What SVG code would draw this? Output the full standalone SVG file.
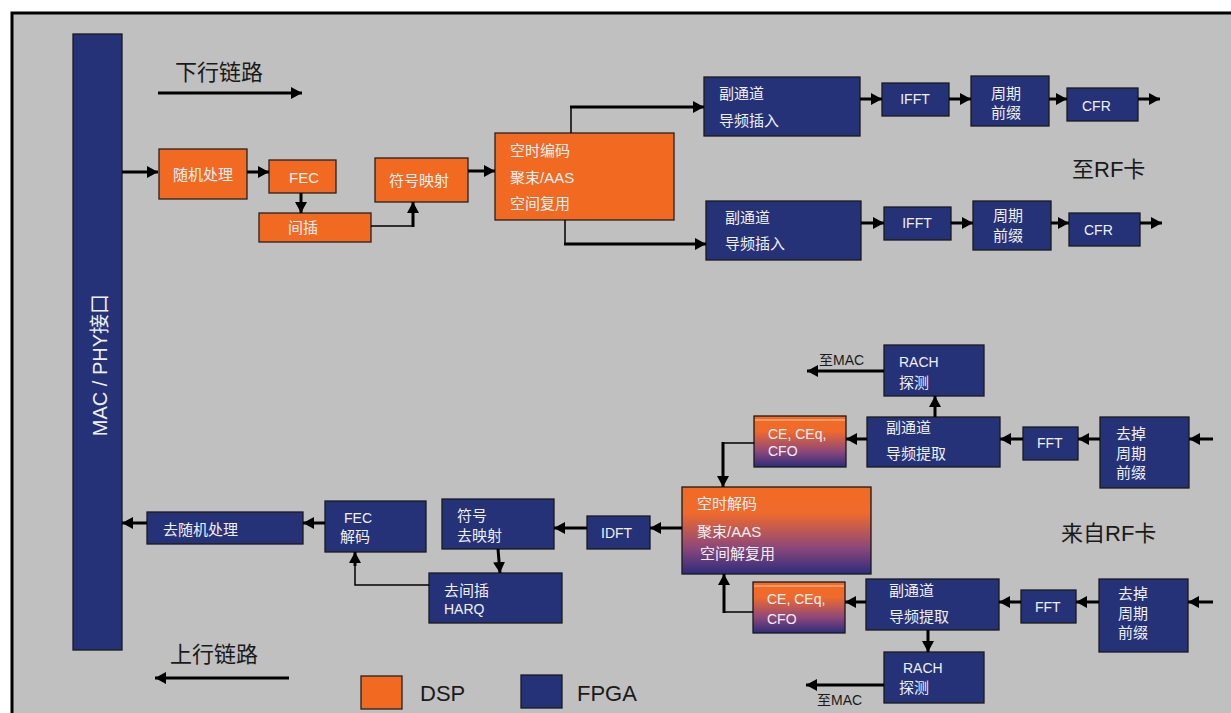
<svg xmlns="http://www.w3.org/2000/svg" width="1231" height="713" viewBox="0 0 1231 713">
<defs>
<style>
.bg{fill:#c0c0c0;stroke:#000;stroke-width:3}
.or{fill:#f26a22;stroke:#222;stroke-width:1.3}
.nv{fill:#263277;stroke:#1a1a1a;stroke-width:1.3}
.gr{fill:url(#g1);stroke:#1a1a1a;stroke-width:1.3}
.t{font-family:"Liberation Sans","Noto Sans CJK SC",sans-serif;fill:#eef0f6;font-size:15px;dominant-baseline:central}
.tl{font-family:"Liberation Sans","Noto Sans CJK SC",sans-serif;fill:#1a1a1a;font-size:22px;dominant-baseline:central}
.ts{font-family:"Liberation Sans","Noto Sans CJK SC",sans-serif;fill:#1a1a1a;font-size:14px;dominant-baseline:central}
.c{fill:none;stroke:#000;stroke-width:3}
.cn{fill:none;stroke:#000;stroke-width:1.5}
</style>
<linearGradient id="g1" x1="0" y1="0" x2="0" y2="1">
<stop offset="0" stop-color="#f26a22"/>
<stop offset="0.3" stop-color="#ef6a2e"/>
<stop offset="0.7" stop-color="#8c477a"/>
<stop offset="1" stop-color="#2d2c7c"/>
</linearGradient>
<marker id="a" markerUnits="userSpaceOnUse" markerWidth="12" markerHeight="12" refX="11" refY="6" orient="auto">
<path d="M0,0 L11,6 L0,12 z" fill="#000"/>
</marker>
</defs>
<rect x="12" y="13" width="1230" height="710" class="bg"/>

<g id="mac-phy">
<rect x="73" y="34" width="49" height="616" class="nv"/>
<text class="t" style="font-size:20px" text-anchor="middle" transform="translate(100,365) rotate(-90)">MAC / PHY接口</text>
</g>

<g id="labels">
<text class="tl" x="175" y="72">下行链路</text>
<text class="tl" x="1072" y="169">至RF卡</text>
<text class="tl" x="1061" y="533">来自RF卡</text>
<text class="tl" x="170" y="654">上行链路</text>
<text class="ts" x="819" y="360">至MAC</text>
<text class="ts" x="817" y="700">至MAC</text>
</g>

<g id="legend">
<rect x="361" y="676" width="41" height="33" class="or"/>
<text class="tl" x="420" y="693">DSP</text>
<rect x="521" y="675" width="41" height="33" class="nv"/>
<text class="tl" x="577" y="693">FPGA</text>
</g>

<g id="dl-rand"><rect x="159" y="149" width="88" height="50" class="or"/><text class="t" x="173" y="174">随机处理</text></g>
<g id="dl-fec"><rect x="269" y="160" width="67" height="33" class="or"/><text class="t" x="289" y="177">FEC</text></g>
<g id="dl-interleave"><rect x="259" y="213" width="112" height="29" class="or"/><text class="t" x="288" y="227">间插</text></g>
<g id="dl-map"><rect x="375" y="158" width="93" height="44" class="or"/><text class="t" x="389" y="180">符号映射</text></g>
<g id="dl-stc"><rect x="495" y="133" width="179" height="87" class="or"/>
<text class="t" x="510" y="150">空时编码</text><text class="t" x="510" y="177">聚束/AAS</text><text class="t" x="510" y="203">空间复用</text></g>
<g id="dl-pilot1"><rect x="704" y="77" width="156" height="59" class="nv"/><text class="t" x="719" y="93">副通道</text><text class="t" x="719" y="120">导频插入</text></g>
<g id="dl-pilot2"><rect x="706" y="201" width="155" height="59" class="nv"/><text class="t" x="725" y="217">副通道</text><text class="t" x="725" y="243">导频插入</text></g>
<g id="dl-ifft1"><rect x="882" y="83" width="67" height="33" class="nv"/><text class="t" style="font-size:14px" x="915" y="99" text-anchor="middle">IFFT</text></g>
<g id="dl-cp1"><rect x="971" y="76" width="78" height="50" class="nv"/><text class="t" x="1006" y="93" text-anchor="middle">周期</text><text class="t" x="1006" y="112" text-anchor="middle">前缀</text></g>
<g id="dl-cfr1"><rect x="1067" y="88" width="71" height="33" class="nv"/><text class="t" style="font-size:14px" x="1082" y="106">CFR</text></g>
<g id="dl-ifft2"><rect x="884" y="207" width="67" height="33" class="nv"/><text class="t" style="font-size:14px" x="917" y="223" text-anchor="middle">IFFT</text></g>
<g id="dl-cp2"><rect x="973" y="201" width="78" height="49" class="nv"/><text class="t" x="1008" y="215" text-anchor="middle">周期</text><text class="t" x="1008" y="235" text-anchor="middle">前缀</text></g>
<g id="dl-cfr2"><rect x="1069" y="213" width="71" height="33" class="nv"/><text class="t" style="font-size:14px" x="1084" y="230">CFR</text></g>

<g id="ul-rach1"><rect x="884" y="345" width="100" height="51" class="nv"/><text class="t" style="font-size:14px" x="899" y="362">RACH</text><text class="t" x="899" y="382">探测</text></g>
<g id="ul-pilot1"><rect x="867" y="417" width="133" height="50" class="nv"/><text class="t" x="886" y="427">副通道</text><text class="t" x="886" y="453">导频提取</text></g>
<g id="ul-ce1"><rect x="754" y="416" width="92" height="51" class="gr"/><line x1="755" y1="420" x2="845" y2="420" stroke="#f6c9a8" stroke-width="1"/><text class="t" style="font-size:14px" x="768" y="434">CE, CEq,</text><text class="t" style="font-size:14px" x="768" y="451">CFO</text></g>
<g id="ul-fft1"><rect x="1023" y="427" width="55" height="33" class="nv"/><text class="t" style="font-size:14px" x="1037" y="443">FFT</text></g>
<g id="ul-rmcp1"><rect x="1100" y="417" width="89" height="71" class="nv"/><text class="t" x="1116" y="433">去掉</text><text class="t" x="1116" y="453">周期</text><text class="t" x="1116" y="472">前缀</text></g>
<g id="ul-stc"><rect x="682" y="487" width="189" height="87" class="gr"/>
<text class="t" x="697" y="503">空时解码</text><text class="t" x="697" y="531">聚束/AAS</text><text class="t" x="700" y="553">空间解复用</text></g>
<g id="ul-ce2"><rect x="753" y="582" width="92" height="51" class="gr"/><line x1="754" y1="586" x2="844" y2="586" stroke="#f6c9a8" stroke-width="1"/><text class="t" style="font-size:14px" x="767" y="599">CE, CEq,</text><text class="t" style="font-size:14px" x="767" y="619">CFO</text></g>
<g id="ul-pilot2"><rect x="866" y="579" width="133" height="51" class="nv"/><text class="t" x="889" y="590">副通道</text><text class="t" x="889" y="616">导频提取</text></g>
<g id="ul-fft2"><rect x="1021" y="590" width="55" height="33" class="nv"/><text class="t" style="font-size:14px" x="1035" y="607">FFT</text></g>
<g id="ul-rmcp2"><rect x="1099" y="579" width="89" height="73" class="nv"/><text class="t" x="1118" y="593">去掉</text><text class="t" x="1118" y="613">周期</text><text class="t" x="1118" y="632">前缀</text></g>
<g id="ul-rach2"><rect x="884" y="652" width="100" height="51" class="nv"/><text class="t" style="font-size:14px" x="903" y="668">RACH</text><text class="t" x="899" y="687">探测</text></g>
<g id="ul-idft"><rect x="587" y="516" width="63" height="33" class="nv"/><text class="t" style="font-size:14px" x="601" y="533">IDFT</text></g>
<g id="ul-demap"><rect x="442" y="499" width="112" height="50" class="nv"/><text class="t" x="457" y="515">符号</text><text class="t" x="457" y="535">去映射</text></g>
<g id="ul-deint"><rect x="429" y="573" width="133" height="50" class="nv"/><text class="t" x="444" y="590">去间插</text><text class="t" style="font-size:14px" x="444" y="609">HARQ</text></g>
<g id="ul-fecdec"><rect x="325" y="501" width="101" height="51" class="nv"/><text class="t" style="font-size:14px" x="344" y="518">FEC</text><text class="t" x="340" y="536">解码</text></g>
<g id="ul-derand"><rect x="147" y="512" width="156" height="32" class="nv"/><text class="t" x="163" y="529">去随机处理</text></g>

<g id="connectors">
<path class="c" d="M158,93 H302" marker-end="url(#a)"/>
<path class="c" d="M289,678 H155" marker-end="url(#a)"/>
<path class="c" d="M122,172 H158" marker-end="url(#a)"/>
<path class="c" d="M247,172 H269" marker-end="url(#a)"/>
<path class="c" d="M301,193 V213" marker-end="url(#a)"/>
<path class="cn" d="M371,226 H413"/>
<path class="c" d="M413,227 V202" marker-end="url(#a)"/>
<path class="c" d="M468,171 H495" marker-end="url(#a)"/>
<path class="cn" d="M571,133 V106"/>
<path class="c" d="M570,107 H704" marker-end="url(#a)"/>
<path class="cn" d="M565,220 V244"/>
<path class="c" d="M564,244 H706" marker-end="url(#a)"/>
<path class="c" d="M860,99 H882" marker-end="url(#a)"/>
<path class="c" d="M949,99 H971" marker-end="url(#a)"/>
<path class="c" d="M1049,99 H1067" marker-end="url(#a)"/>
<path class="c" d="M1138,99 H1160" marker-end="url(#a)"/>
<path class="c" d="M861,223 H884" marker-end="url(#a)"/>
<path class="c" d="M951,223 H973" marker-end="url(#a)"/>
<path class="c" d="M1051,223 H1069" marker-end="url(#a)"/>
<path class="c" d="M1140,223 H1162" marker-end="url(#a)"/>
<path class="c" d="M1213,439 H1189" marker-end="url(#a)"/>
<path class="c" d="M1100,439 H1078" marker-end="url(#a)"/>
<path class="c" d="M1023,439 H1000" marker-end="url(#a)"/>
<path class="c" d="M867,439 H846" marker-end="url(#a)"/>
<path class="c" d="M935,417 V396" marker-end="url(#a)"/>
<path class="c" d="M884,371 H807" marker-end="url(#a)"/>
<path class="cn" d="M754,443 H723"/>
<path class="c" d="M723,442 V487" marker-end="url(#a)"/>
<path class="c" d="M1213,602 H1188" marker-end="url(#a)"/>
<path class="c" d="M1099,602 H1076" marker-end="url(#a)"/>
<path class="c" d="M1021,602 H999" marker-end="url(#a)"/>
<path class="c" d="M866,602 H845" marker-end="url(#a)"/>
<path class="c" d="M928,630 V652" marker-end="url(#a)"/>
<path class="c" d="M884,685 H806" marker-end="url(#a)"/>
<path class="cn" d="M753,612 H724"/>
<path class="c" d="M724,613 V574" marker-end="url(#a)"/>
<path class="c" d="M682,528 H650" marker-end="url(#a)"/>
<path class="c" d="M587,528 H554" marker-end="url(#a)"/>
<path class="c" d="M498,549 L500,573" marker-end="url(#a)"/>
<path class="cn" d="M429,585 H355 V560"/>
<path class="c" d="M355,566 V552" marker-end="url(#a)"/>
<path class="c" d="M325,523 H303" marker-end="url(#a)"/>
<path class="c" d="M147,523 H122" marker-end="url(#a)"/>
</g>
</svg>
